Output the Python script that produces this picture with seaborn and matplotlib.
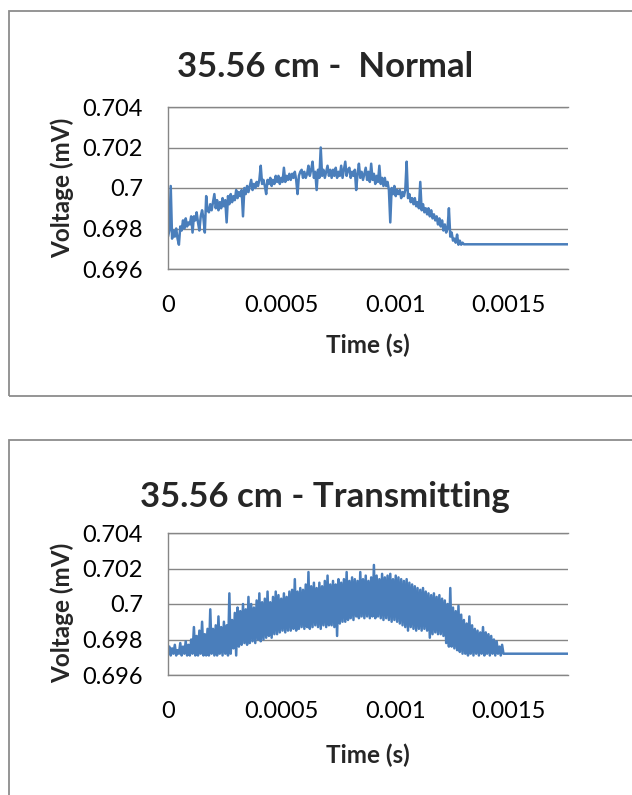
"""
Oscilloscope traces at 35.56 cm: normal vs transmitting.
Two stacked Excel-style line charts, saved to out.png.
"""

import matplotlib

matplotlib.use("Agg")  # headless plotting
import matplotlib.pyplot as plt
import numpy as np
import pandas as pd
import seaborn as sns
from matplotlib.patches import Rectangle
from matplotlib.ticker import FixedLocator, FuncFormatter

# ---------------------------------------------------------------------------
# 0. Data (time in microseconds, voltage in mV)
#    Both traces share the same sample times.
# ---------------------------------------------------------------------------
TIME_US = [
    0, 6, 12, 18, 24, 30, 36, 42, 48, 54,
    60, 66, 72, 78, 84, 90, 96, 102, 108, 114,
    120, 126, 132, 138, 144, 150, 156, 162, 168, 174,
    180, 186, 192, 198, 204, 210, 216, 222, 228, 234,
    240, 246, 252, 258, 264, 270, 276, 282, 288, 294,
    300, 306, 312, 318, 324, 330, 336, 342, 348, 354,
    360, 366, 372, 378, 384, 390, 396, 402, 408, 414,
    420, 426, 432, 438, 444, 450, 456, 462, 468, 474,
    480, 486, 492, 498, 504, 510, 516, 522, 528, 534,
    540, 546, 552, 558, 564, 570, 576, 582, 588, 594,
    600, 606, 612, 618, 624, 630, 636, 642, 648, 654,
    660, 666, 672, 678, 684, 690, 696, 702, 708, 714,
    720, 726, 732, 738, 744, 750, 756, 762, 768, 774,
    780, 786, 792, 798, 804, 810, 816, 822, 828, 834,
    840, 846, 852, 858, 864, 870, 876, 882, 888, 894,
    900, 906, 912, 918, 924, 930, 936, 942, 948, 954,
    960, 966, 972, 978, 984, 990, 996, 1002, 1008, 1014,
    1020, 1026, 1032, 1038, 1044, 1050, 1056, 1062, 1068, 1074,
    1080, 1086, 1092, 1098, 1104, 1110, 1116, 1122, 1128, 1134,
    1140, 1146, 1152, 1158, 1164, 1170, 1176, 1182, 1188, 1194,
    1200, 1206, 1212, 1218, 1224, 1230, 1236, 1242, 1248, 1254,
    1260, 1266, 1272, 1278, 1284, 1290, 1296, 1302, 1308, 1314,
    1320, 1326, 1332, 1338, 1344, 1350, 1356, 1362, 1368, 1374,
    1380, 1386, 1392, 1398, 1404, 1410, 1416, 1422, 1428, 1434,
    1440, 1446, 1452, 1458, 1464, 1470, 1476, 1482, 1488, 1494,
    1760,
]

NORMAL_MV = [
    0.6976, 0.6979, 0.7001, 0.6975, 0.6979, 0.6976, 0.6980, 0.6975, 0.6972, 0.6981,
    0.6979, 0.6984, 0.6980, 0.6985, 0.6981, 0.6983, 0.6982, 0.6986, 0.6978, 0.6986,
    0.6984, 0.6988, 0.6983, 0.6979, 0.6986, 0.6989, 0.6985, 0.6978, 0.6996, 0.6989,
    0.6988, 0.6992, 0.6989, 0.6993, 0.6997, 0.6990, 0.6994, 0.6989, 0.6993, 0.6990,
    0.6995, 0.6991, 0.6994, 0.6983, 0.6996, 0.6992, 0.6997, 0.6993, 0.6996, 0.6994,
    0.6999, 0.6995, 0.6998, 0.6996, 0.6999, 0.6986, 0.7000, 0.6997, 0.7001, 0.6998,
    0.7001, 0.7004, 0.6999, 0.7002, 0.7000, 0.7003, 0.7001, 0.7004, 0.7011, 0.7002,
    0.7004, 0.7001, 0.6997, 0.7004, 0.7002, 0.7005, 0.7001, 0.7004, 0.7002, 0.7006,
    0.7003, 0.7006, 0.7002, 0.7005, 0.7003, 0.7010, 0.7003, 0.7006, 0.7004, 0.7007,
    0.7004, 0.7007, 0.7005, 0.7008, 0.7004, 0.6997, 0.7006, 0.7008, 0.7009, 0.7005,
    0.7008, 0.7005, 0.7007, 0.7011, 0.7006, 0.7009, 0.7013, 0.7005, 0.7008, 0.6999,
    0.7009, 0.7005, 0.7020, 0.7006, 0.7009, 0.7005, 0.7008, 0.7011, 0.7006, 0.7009,
    0.7005, 0.7009, 0.7006, 0.7010, 0.7005, 0.7008, 0.7006, 0.7011, 0.7005, 0.7009,
    0.7013, 0.7006, 0.7009, 0.7010, 0.7005, 0.7008, 0.7006, 0.7009, 0.6999, 0.7007,
    0.7012, 0.7005, 0.7008, 0.7004, 0.7007, 0.7010, 0.7004, 0.7008, 0.7003, 0.7012,
    0.7004, 0.7007, 0.7002, 0.7006, 0.7003, 0.7011, 0.7002, 0.7005, 0.7001, 0.7005,
    0.7001, 0.7003, 0.6999, 0.6983, 0.7000, 0.6997, 0.7001, 0.6996, 0.6999, 0.6997,
    0.6999, 0.6995, 0.6998, 0.6996, 0.6999, 0.7013, 0.6995, 0.6997, 0.6993, 0.6995,
    0.6992, 0.6995, 0.6991, 0.6993, 0.6990, 0.7003, 0.6989, 0.6992, 0.6988, 0.6990,
    0.6987, 0.6990, 0.6986, 0.6989, 0.6985, 0.6987, 0.6984, 0.6986, 0.6982, 0.6985,
    0.6981, 0.6984, 0.6979, 0.6982, 0.6978, 0.6980, 0.6990, 0.6976, 0.6978, 0.6974,
    0.6975, 0.6973, 0.6977, 0.6972, 0.6974, 0.6972, 0.6973, 0.69722, 0.69722, 0.69722,
    0.69722, 0.69722, 0.69722, 0.69722, 0.69722, 0.69722, 0.69722, 0.69722, 0.69722, 0.69722,
    0.69722, 0.69722, 0.69722, 0.69722, 0.69722, 0.69722, 0.69722, 0.69722, 0.69722, 0.69722,
    0.69722, 0.69722, 0.69722, 0.69722, 0.69722, 0.69722, 0.69722, 0.69722, 0.69722, 0.69722,
    0.69722,
]

TRANS_MV = [
    0.6974, 0.6976, 0.6971, 0.6975, 0.6972, 0.6977, 0.6971, 0.6974, 0.6972, 0.6978,
    0.6971, 0.6976, 0.6972, 0.6979, 0.6971, 0.6977, 0.6971, 0.6980, 0.6972, 0.6987,
    0.6971, 0.6982, 0.6971, 0.6985, 0.6972, 0.6990, 0.6971, 0.6983, 0.6971, 0.6986,
    0.6971, 0.6997, 0.6972, 0.6986, 0.6971, 0.6988, 0.6971, 0.6993, 0.6972, 0.6987,
    0.6971, 0.6990, 0.6972, 0.6988, 0.6971, 0.7006, 0.6972, 0.6991, 0.6975, 0.6995,
    0.6971, 0.6998, 0.6976, 0.6996, 0.6977, 0.7000, 0.6978, 0.6997, 0.6977, 0.7004,
    0.6978, 0.7000, 0.6979, 0.6998, 0.6978, 0.7002, 0.6980, 0.7006, 0.6979, 0.7001,
    0.6980, 0.7003, 0.6981, 0.7007, 0.6982, 0.7001, 0.6981, 0.7004, 0.6983, 0.7007,
    0.6983, 0.7005, 0.6984, 0.7003, 0.6985, 0.7006, 0.6984, 0.7004, 0.6985, 0.7007,
    0.6985, 0.7008, 0.6986, 0.7014, 0.6985, 0.7007, 0.6986, 0.7009, 0.6987, 0.7008,
    0.6986, 0.7011, 0.6987, 0.7018, 0.6986, 0.7010, 0.6987, 0.7012, 0.6988, 0.7009,
    0.6987, 0.7012, 0.6986, 0.7010, 0.6988, 0.7013, 0.6987, 0.7016, 0.6988, 0.7011,
    0.6988, 0.7013, 0.6987, 0.7011, 0.6982, 0.7014, 0.6989, 0.7012, 0.6990, 0.7014,
    0.6990, 0.7018, 0.6991, 0.7013, 0.6992, 0.7015, 0.6991, 0.7014, 0.6993, 0.7013,
    0.6992, 0.7018, 0.6993, 0.7014, 0.6992, 0.7016, 0.6993, 0.7013, 0.6992, 0.7015,
    0.6993, 0.7022, 0.6992, 0.7016, 0.6993, 0.7014, 0.6992, 0.7017, 0.6991, 0.7015,
    0.6992, 0.7016, 0.6991, 0.7017, 0.6990, 0.7014, 0.6991, 0.7016, 0.6990, 0.7015,
    0.6989, 0.7014, 0.6988, 0.7013, 0.6987, 0.7014, 0.6985, 0.7012, 0.6987, 0.7011,
    0.6986, 0.7010, 0.6985, 0.7009, 0.6986, 0.7008, 0.6985, 0.7009, 0.6986, 0.7007,
    0.6985, 0.7006, 0.6981, 0.7005, 0.6983, 0.7006, 0.6984, 0.7004, 0.6983, 0.7005,
    0.6983, 0.7003, 0.6982, 0.7002, 0.6978, 0.7000, 0.6976, 0.7009, 0.6976, 0.6998,
    0.6975, 0.6996, 0.6974, 0.6999, 0.6973, 0.6994, 0.6972, 0.6991, 0.6972, 0.6989,
    0.6971, 0.6993, 0.6972, 0.6988, 0.6971, 0.6986, 0.6972, 0.6985, 0.6971, 0.6984,
    0.6972, 0.6987, 0.6971, 0.6984, 0.6972, 0.6983, 0.6971, 0.6982, 0.6972, 0.6980,
    0.6971, 0.6979, 0.6972, 0.6976, 0.6971, 0.6977, 0.6972, 0.6972, 0.6972, 0.6972,
    0.6972,
]

PANEL_TITLES = ["35.56 cm -  Normal", "35.56 cm - Transmitting"]
X_LABEL = "Time (s)"
Y_LABEL = "Voltage (mV)"
X_TICKS = [0, 0.0005, 0.001, 0.0015]
Y_TICKS = [0.696, 0.698, 0.700, 0.702, 0.704]

# ---------------------------------------------------------------------------
# 1. Style
# ---------------------------------------------------------------------------
LINE_COLOR = "#4a7ebb"
GRID_COLOR = "#868686"
BOX_COLOR = "#8c8c8c"

sns.set_style("white")
plt.rcParams["font.family"] = ["Lato", "DejaVu Sans"]

W, H = 632, 795  # output size in pixels (dpi 100)


def fx(px):
    return px / W


def fy(py):
    return 1 - py / H


def draw_panel(fig, rect, mv, title, title_y, label_pos):
    ax = fig.add_axes(rect)
    df = pd.DataFrame({"time": np.array(TIME_US) / 1e6, "mv": mv})
    sns.lineplot(data=df, x="time", y="mv", ax=ax, color=LINE_COLOR,
                 linewidth=1.8, sort=False, estimator=None)

    ax.set_xlim(0, 0.00176)
    ax.set_ylim(0.696, 0.704)
    ax.xaxis.set_major_locator(FixedLocator(X_TICKS))
    ax.yaxis.set_major_locator(FixedLocator(Y_TICKS))
    fmt = FuncFormatter(lambda v, _: f"{v:g}")
    ax.xaxis.set_major_formatter(fmt)
    ax.yaxis.set_major_formatter(fmt)

    ax.grid(axis="y", color=GRID_COLOR, linewidth=1.0)
    ax.grid(axis="x", visible=False)
    for side in ["left", "bottom", "top"]:
        ax.spines[side].set_color(GRID_COLOR)
        ax.spines[side].set_linewidth(1.0)
    ax.spines["right"].set_visible(False)

    ax.tick_params(axis="both", length=0, labelsize=17, colors="black")
    ax.tick_params(axis="x", pad=19)
    ax.tick_params(axis="y", pad=18)

    ax.set_xlabel(X_LABEL, fontsize=17.5, fontweight="bold", va="center")
    ax.set_ylabel(Y_LABEL, fontsize=17.5, fontweight="bold", va="center")
    ax.xaxis.set_label_coords(0.5, label_pos[0])
    ax.yaxis.set_label_coords(label_pos[1], label_pos[2])

    fig.text(fx(325), title_y, title, ha="center", va="baseline",
             fontsize=25, fontweight="bold")
    return ax


def main():
    assert len(TIME_US) == len(NORMAL_MV) == len(TRANS_MV)

    fig = plt.figure(figsize=(W / 100, H / 100), dpi=100)

    # chart-area frames (both run off the right edge, as in the source)
    fig.add_artist(Rectangle((fx(9), fy(396)), 1.2, fy(11) - fy(396),
                             transform=fig.transFigure, fill=False,
                             ec=BOX_COLOR, lw=1.3))
    fig.add_artist(Rectangle((fx(9), -0.2), 1.2, fy(440) + 0.2,
                             transform=fig.transFigure, fill=False,
                             ec=BOX_COLOR, lw=1.3))

    left, width = fx(168), fx(568) - fx(168)
    draw_panel(fig, [left, fy(269), width, fy(107) - fy(269)],
               NORMAL_MV, PANEL_TITLES[0], fy(76.6),
               (-0.469, -0.265, 0.5))
    draw_panel(fig, [left, fy(675), width, fy(533) - fy(675)],
               TRANS_MV, PANEL_TITLES[1], fy(506.8),
               (-0.563, -0.265, 0.44))

    fig.savefig("out.png", dpi=100)
    plt.close(fig)


if __name__ == "__main__":
    main()
